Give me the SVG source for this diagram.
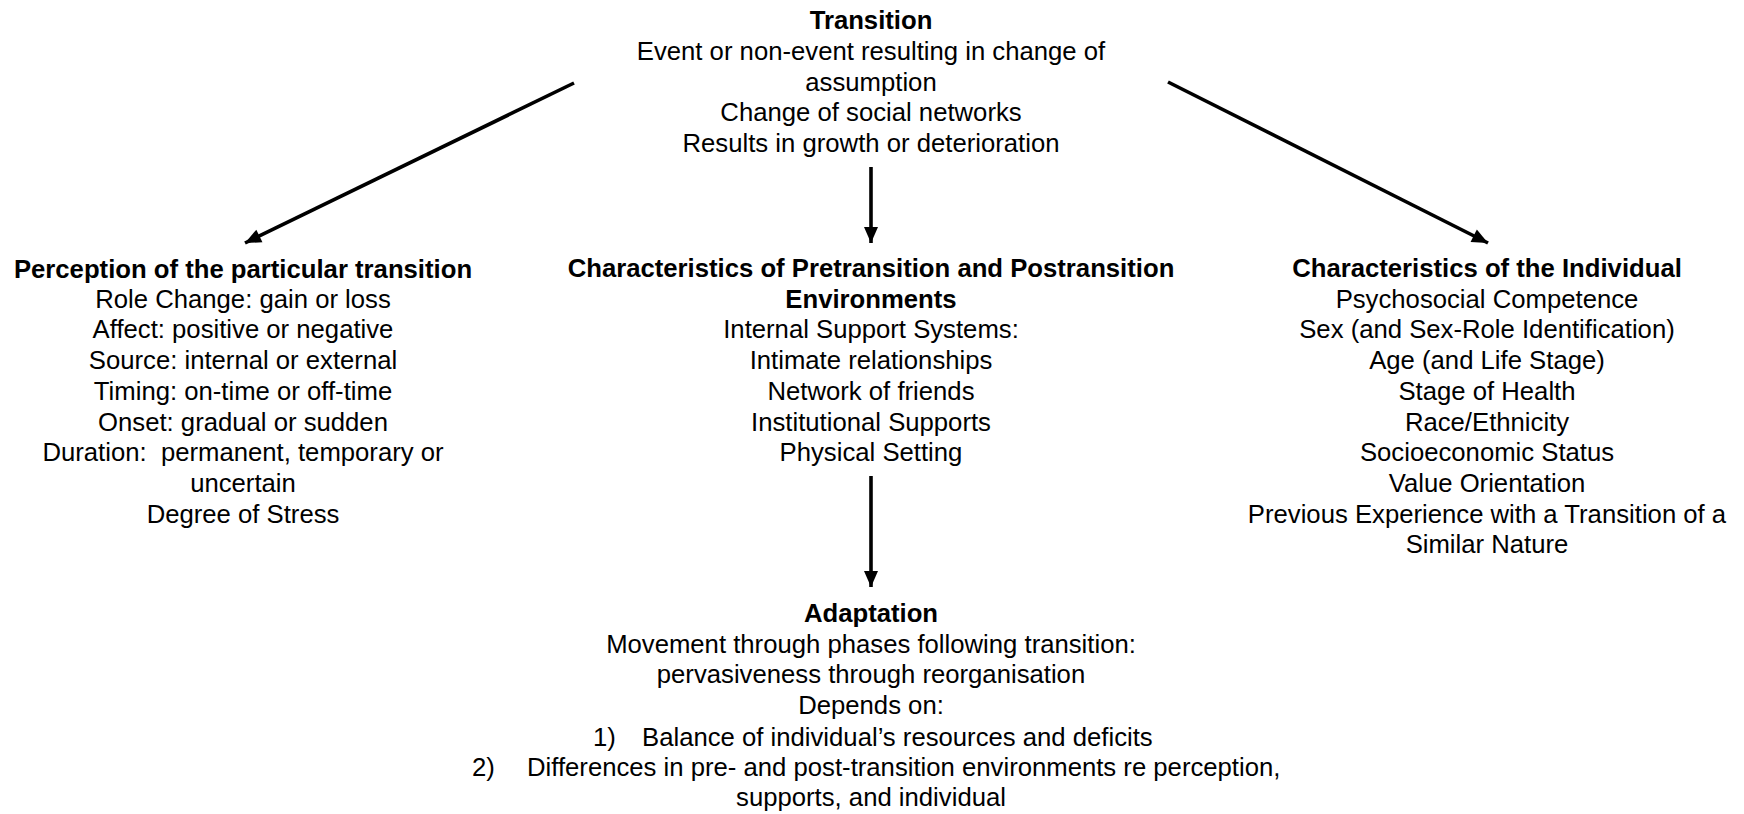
<svg xmlns="http://www.w3.org/2000/svg" width="1744" height="814" viewBox="0 0 1744 814">
<defs>
<style>
text{font-family:"Liberation Sans",Arial,sans-serif;font-size:25.7px;fill:#000;text-anchor:middle}
.b{font-weight:bold}
.s{text-anchor:start}
.c{stroke:#000;stroke-width:3.6;fill:none}
</style>
<marker id="ah" markerUnits="userSpaceOnUse" markerWidth="20" markerHeight="20" viewBox="0 0 20 20" refX="18" refY="10" orient="auto">
<path d="M2,3 L18,10 L2,17 Z" fill="#000"/>
</marker>
</defs>
<rect width="1744" height="814" fill="#fff"/>
<g id="connectors">
<line class="c" x1="574" y1="83" x2="245" y2="243" marker-end="url(#ah)"/>
<line class="c" x1="871" y1="167" x2="871" y2="243" marker-end="url(#ah)"/>
<line class="c" x1="1168" y1="82" x2="1488" y2="243" marker-end="url(#ah)"/>
<line class="c" x1="871" y1="476" x2="871" y2="587" marker-end="url(#ah)"/>
</g>
<g id="transition">
<text class="b" x="871" y="29">Transition</text>
<text x="871" y="60">Event or non-event resulting in change of</text>
<text x="871" y="90.5">assumption</text>
<text x="871" y="121">Change of social networks</text>
<text x="871" y="152">Results in growth or deterioration</text>
</g>
<g id="perception">
<text class="b" x="243" y="278">Perception of the particular transition</text>
<text x="243" y="307.7">Role Change: gain or loss</text>
<text x="243" y="338.4">Affect: positive or negative</text>
<text x="243" y="369.1">Source: internal or external</text>
<text x="243" y="399.8">Timing: on-time or off-time</text>
<text x="243" y="430.5">Onset: gradual or sudden</text>
<text x="243" y="461.2">Duration:&#160; permanent, temporary or</text>
<text x="243" y="491.9">uncertain</text>
<text x="243" y="522.6">Degree of Stress</text>
</g>
<g id="environments">
<text class="b" x="871" y="277">Characteristics of Pretransition and Postransition</text>
<text class="b" x="871" y="307.7">Environments</text>
<text x="871" y="338.4">Internal Support Systems:</text>
<text x="871" y="369.1">Intimate relationships</text>
<text x="871" y="399.8">Network of friends</text>
<text x="871" y="430.5">Institutional Supports</text>
<text x="871" y="461.2">Physical Setting</text>
</g>
<g id="individual">
<text class="b" x="1487" y="277">Characteristics of the Individual</text>
<text x="1487" y="307.7">Psychosocial Competence</text>
<text x="1487" y="338.4">Sex (and Sex-Role Identification)</text>
<text x="1487" y="369.1">Age (and Life Stage)</text>
<text x="1487" y="399.8">Stage of Health</text>
<text x="1487" y="430.5">Race/Ethnicity</text>
<text x="1487" y="461.2">Socioeconomic Status</text>
<text x="1487" y="491.9">Value Orientation</text>
<text x="1487" y="522.6">Previous Experience with a Transition of a</text>
<text x="1487" y="553.3">Similar Nature</text>
</g>
<g id="adaptation">
<text class="b" x="871" y="622">Adaptation</text>
<text x="871" y="652.7">Movement through phases following transition:</text>
<text x="871" y="683.4">pervasiveness through reorganisation</text>
<text x="871" y="714.1">Depends on:</text>
<text class="s" x="593" y="745.5">1)</text>
<text class="s" x="642" y="745.5">Balance of individual’s resources and deficits</text>
<text class="s" x="472" y="775.5">2)</text>
<text class="s" x="527" y="775.5">Differences in pre- and post-transition environments re perception,</text>
<text x="871" y="806.2">supports, and individual</text>
</g>
</svg>
